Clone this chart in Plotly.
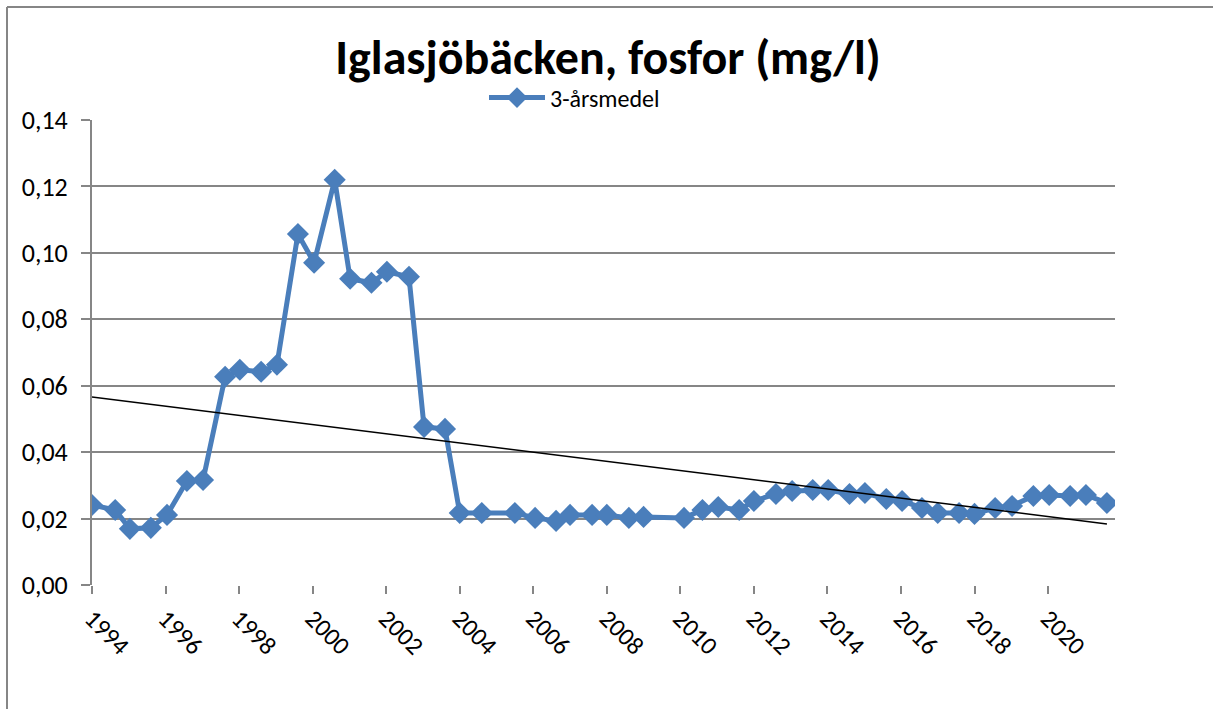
import plotly.graph_objects as go

# Data (decimal years, 3-year mean phosphorus mg/l)
years = [1994.0, 1994.63, 1995.03, 1995.6, 1996.04, 1996.58, 1997.02, 1997.62, 1998.02, 1998.6,
         1999.03, 1999.6, 2000.04, 2000.6, 2001.02, 2001.6, 2002.02, 2002.62, 2003.03, 2003.6,
         2004.0, 2004.6, 2005.5, 2006.05, 2006.62, 2007.0, 2007.6, 2008.0, 2008.6, 2009.0,
         2010.1, 2010.6, 2011.03, 2011.6, 2012.0, 2012.6, 2013.04, 2013.6, 2014.02, 2014.6,
         2015.02, 2015.6, 2016.03, 2016.57, 2017.0, 2017.58, 2018.0, 2018.56, 2019.02, 2019.6,
         2020.03, 2020.6, 2021.03, 2021.6]
values = [0.0241, 0.0226, 0.0169, 0.0172, 0.0211, 0.0313, 0.0316, 0.0627, 0.0648, 0.0642,
          0.0663, 0.1057, 0.0970, 0.1220, 0.0922, 0.0910, 0.0943, 0.0928, 0.0476, 0.0470,
          0.0217, 0.0217, 0.0217, 0.0202, 0.0193, 0.0211, 0.0211, 0.0211, 0.0202, 0.0205,
          0.0202, 0.0226, 0.0235, 0.0226, 0.0253, 0.0274, 0.0283, 0.0286, 0.0286, 0.0274,
          0.0277, 0.0259, 0.0253, 0.0232, 0.0217, 0.0217, 0.0214, 0.0232, 0.0238, 0.0268,
          0.0271, 0.0268, 0.0271, 0.0247]
trend_x = [1994.0, 2021.6]
trend_y = [0.0566, 0.0184]
x_ticks = [1994, 1996, 1998, 2000, 2002, 2004, 2006, 2008, 2010, 2012, 2014, 2016, 2018, 2020]
y_ticks = [0.0, 0.02, 0.04, 0.06, 0.08, 0.10, 0.12, 0.14]
y_tick_labels = ["0,00", "0,02", "0,04", "0,06", "0,08", "0,10", "0,12", "0,14"]

FONT = "Carlito, 'Open Sans', Lato, sans-serif"
GRID = "#868686"
BLUE = "#4A7EBB"

fig = go.Figure()
fig.add_trace(go.Scatter(
    x=years, y=values, mode="lines+markers", name="3-årsmedel",
    line=dict(color=BLUE, width=5),
    marker=dict(symbol="diamond", size=17, color=BLUE),
))
fig.add_trace(go.Scatter(
    x=trend_x, y=trend_y, mode="lines", showlegend=False,
    line=dict(color="black", width=1.5), hoverinfo="skip",
))

fig.update_layout(
    width=1213, height=709,
    margin=dict(l=92, r=98, t=120, b=124),
    paper_bgcolor="white", plot_bgcolor="white",
    font=dict(family=FONT, color="black", size=26),
    title=dict(text="<b>Iglasjöbäcken, fosfor (mg/l)</b>", x=608 / 1213, xanchor="center",
               y=1 - 57 / 709, yanchor="middle", yref="container",
               font=dict(family=FONT, size=48, color="black")),
    showlegend=True,
    legend=dict(orientation="h", x=(484 - 92) / 1023, xanchor="left", y=(585 - 98) / 465,
                yanchor="middle", font=dict(family=FONT, size=24), bgcolor="rgba(0,0,0,0)",
                itemwidth=56),
    xaxis=dict(range=[1994, 2021.82], tickmode="array", tickvals=x_ticks,
               ticktext=[str(t) for t in x_ticks], tickangle=45,
               showgrid=False, zeroline=False, showline=False,
               ticks="outside", ticklen=8, tickcolor=GRID, tickwidth=2,
               tickfont=dict(family=FONT, size=25)),
    yaxis=dict(range=[0, 0.14], tickmode="array", tickvals=y_ticks, ticktext=y_tick_labels,
               showgrid=True, gridcolor=GRID, gridwidth=2, zeroline=False,
               showline=True, linecolor=GRID, linewidth=2,
               ticks="outside", ticklen=9, tickcolor=GRID, tickwidth=2,
               ticklabelstandoff=8,
               tickfont=dict(family=FONT, size=26)),
)

# outer chart frame (top and left edges visible)
fx0 = (7 - 92) / 1023
fy1 = (585 - 7) / 465
fig.add_shape(type="line", xref="paper", yref="paper", x0=fx0, x1=1.2, y0=fy1, y1=fy1,
              line=dict(color=GRID, width=2), layer="above")
fig.add_shape(type="line", xref="paper", yref="paper", x0=fx0, x1=fx0, y0=fy1, y1=-0.4,
              line=dict(color=GRID, width=2), layer="above")

fig.write_html("out.html", config={"displayModeBar": False},
               post_script="document.body.style.margin='0';")
